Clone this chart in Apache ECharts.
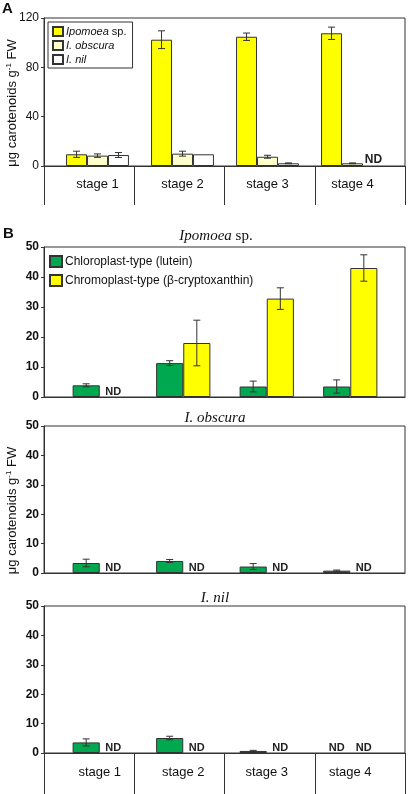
<!DOCTYPE html>
<html>
<head>
<meta charset="utf-8">
<script src="https://cdn.jsdelivr.net/npm/echarts@6/dist/echarts.min.js"></script>
<style>html,body{margin:0;padding:0;background:#fff;}#c{width:408px;height:794px;}</style>
</head>
<body>
<div id="c"></div>
<script>
// ---- data ----
const stages = ['stage 1', 'stage 2', 'stage 3', 'stage 4'];
const aTicksMax = 120, aTicksStep = 40;
const bTicksMax = 50, bTicksStep = 10;
// Panel A (total carotenoids); null = ND
const aIpomoea = [9.5, 102.4, 104.8, 107.6];
const aIpomoeaErr = [2.5, 7.2, 3.0, 5.0];
const aObscura = [8.4, 10.0, 7.5, 2.2];
const aObscuraErr = [1.4, 2.0, 1.2, 0.3];
const aNil = [8.9, 9.5, 2.2, null];
const aNilErr = [2.0, 0, 0.3, 0];
// Panel B
const ipoLutein = [3.9, 11.3, 3.5, 3.5];
const ipoLuteinErr = [0.5, 0.8, 1.8, 2.2];
const ipoCrypto = [null, 18.0, 32.8, 43.0];
const ipoCryptoErr = [0, 7.6, 3.6, 4.4];
const obsLutein = [3.4, 4.1, 2.2, 0.8];
const obsLuteinErr = [1.3, 0.5, 1.0, 0.2];
const obsCrypto = [null, null, null, null];
const nilLutein = [3.6, 5.1, 0.7, null];
const nilLuteinErr = [1.2, 0.6, 0.2, 0];
const nilCrypto = [null, null, null, null];

const names = { ipo: 'Ipomoea sp.', obs: 'I. obscura', nil: 'I. nil',
  lut: 'Chloroplast-type (lutein)', cry: 'Chromoplast-type (β-cryptoxanthin)' };

const SANS = 'Liberation Sans';
const SERIF = 'Liberation Serif';
const C_YEL = '#FFFF00', C_LYEL = '#FFFFCC', C_WHITE = '#FFFFFF', C_GREEN = '#00A94F';
const BORDER = '#333';

function barData(vals, fs) {
  return vals.map(v => v === null ? {
    value: 0,
    itemStyle: { color: 'rgba(0,0,0,0)', borderWidth: 0 },
    label: { show: true, position: 'top', distance: 0, formatter: 'ND',
      fontFamily: SANS, fontWeight: 'bold', fontSize: fs, color: '#222' }
  } : v);
}
function errData(vals, errs) {
  const out = [];
  vals.forEach((v, i) => { if (v !== null && errs[i] > 0) out.push([i, v, errs[i]]); });
  return out;
}
function errSeries(axis, vals, errs, slot, n, gap) {
  return {
    type: 'custom', xAxisIndex: axis, yAxisIndex: axis, z: 10, silent: true,
    encode: { x: 0, y: 1 },
    data: errData(vals, errs),
    renderItem: function (params, api) {
      const c = api.value(0), v = api.value(1), e = api.value(2);
      const catW = api.size([1, 0])[0];
      const used = catW * (1 - gap);
      const bw = used / n;
      const cx = api.coord([c, v])[0] - used / 2 + bw * (slot + 0.5);
      const yt = api.coord([c, v + e])[1];
      const yb = api.coord([c, Math.max(v - e, 0)])[1];
      const cap = 3.5;
      const st = { stroke: '#333', lineWidth: 1 };
      return { type: 'group', children: [
        { type: 'line', shape: { x1: cx, y1: yt, x2: cx, y2: yb }, style: st },
        { type: 'line', shape: { x1: cx - cap, y1: yt, x2: cx + cap, y2: yt }, style: st },
        { type: 'line', shape: { x1: cx - cap, y1: yb, x2: cx + cap, y2: yb }, style: st }
      ]};
    }
  };
}
function barSeries(name, axis, vals, color, fs, gap) {
  const s = { name: name, type: 'bar', xAxisIndex: axis, yAxisIndex: axis,
    data: barData(vals, fs), barGap: '0%',
    itemStyle: { color: color, borderColor: BORDER, borderWidth: 1 } };
  if (gap !== undefined) s.barCategoryGap = (gap * 100) + '%';
  return s;
}

const gapA = 0.26, gapB = 0.35;
// outer frames (box, y axis, separators) and inner bands (bar placement)
const frames = [ { top: 18, height: 148 }, { top: 247, height: 150 }, { top: 426, height: 147 }, { top: 606, height: 147 } ];
const grids = [];
frames.forEach((f, k) => {
  grids.push({ left: 44, right: 3, top: f.top, height: f.height, show: true, borderColor: BORDER, borderWidth: 1,
    containLabel: false, outerBoundsMode: 'none' });
  const inner = k === 0 ? { left: 55, right: 13 } : { left: 58, right: 16 };
  grids.push({ left: inner.left, right: inner.right, top: f.top, height: f.height, show: false,
    containLabel: false, outerBoundsMode: 'none' });
});

function outerX(g, tickLen) {
  return { type: 'category', gridIndex: g, data: stages, boundaryGap: true,
    axisLine: { show: true, lineStyle: { color: BORDER, width: 1 } },
    axisTick: { show: tickLen > 0, length: tickLen, lineStyle: { color: BORDER } },
    axisLabel: { show: false }, splitLine: { show: false } };
}
function innerX(g, showLabels, margin) {
  return { type: 'category', gridIndex: g, data: stages, boundaryGap: true,
    axisLine: { show: false }, axisTick: { show: false },
    axisLabel: { show: showLabels, margin: margin, fontFamily: SANS, fontSize: 13, color: '#111' },
    splitLine: { show: false } };
}
const yName = {
  name: '{n|μg carotenoids g}{s|-1}{n| FW}', nameLocation: 'middle', nameGap: 24, nameMoveOverlap: false,
  nameTextStyle: { padding: [0, 22, 0, 0], rich: { n: { fontFamily: SANS, fontSize: 13, color: '#111' },
    s: { fontFamily: SANS, fontSize: 8, color: '#111', padding: [0, 0, 7, 0] } } }
};
function outerY(g, max, step, bold, withName) {
  const a = { type: 'value', gridIndex: g, min: 0, max: max, interval: step,
    axisLine: { show: true, lineStyle: { color: BORDER } },
    axisTick: { show: true, length: 3, lineStyle: { color: BORDER } },
    axisLabel: { fontFamily: SANS, fontSize: 12, fontWeight: bold ? 'bold' : 'normal', color: '#111', margin: 5 },
    splitLine: { show: false } };
  if (withName) Object.assign(a, yName);
  return a;
}
function innerY(g, max, step) {
  return { type: 'value', gridIndex: g, min: 0, max: max, interval: step, show: false, splitLine: { show: false } };
}

const option = {
  animation: false,
  backgroundColor: '#fff',
  title: [
    { text: 'A', left: 2, top: 1, padding: 0, textStyle: { fontFamily: SANS, fontWeight: 'bold', fontSize: 15, color: '#111' } },
    { text: 'B', left: 3, top: 226, padding: 0, textStyle: { fontFamily: SANS, fontWeight: 'bold', fontSize: 15, color: '#111' } },
    { text: '{i|Ipomoea} sp.', left: 211, top: 224, textAlign: 'center',
      textStyle: { fontFamily: SERIF, fontSize: 15, fontWeight: 'normal', color: '#111',
        rich: { i: { fontFamily: SERIF, fontStyle: 'italic', fontSize: 15, color: '#111' } } } },
    { text: 'I. obscura', left: 210, top: 406, textAlign: 'center',
      textStyle: { fontFamily: SERIF, fontStyle: 'italic', fontSize: 15, fontWeight: 'normal', color: '#111' } },
    { text: 'I. nil', left: 210, top: 586, textAlign: 'center',
      textStyle: { fontFamily: SERIF, fontStyle: 'italic', fontSize: 15, fontWeight: 'normal', color: '#111' } }
  ],
  legend: [
    { data: [names.ipo, names.obs, names.nil], orient: 'vertical', left: 48, top: 22,
      itemWidth: 10, itemHeight: 9, itemGap: 3, padding: [4, 6, 3, 4],
      borderColor: BORDER, borderWidth: 1, icon: 'rect',
      formatter: n => n === names.ipo ? '{i|Ipomoea} sp.' : '{i|' + n + '}',
      textStyle: { fontFamily: SANS, fontSize: 11, color: '#111', padding: [0, 0, 0, -2],
        rich: { i: { fontFamily: SANS, fontStyle: 'italic', fontSize: 11, color: '#111' } } } },
    { data: [names.lut, names.cry], orient: 'vertical', left: 47, top: 253,
      itemWidth: 12, itemHeight: 11, itemGap: 6, padding: 2, icon: 'rect',
      textStyle: { fontFamily: SANS, fontSize: 12, color: '#111', padding: [0, 0, 0, -2] } }
  ],
  grid: grids,
  xAxis: [
    outerX(0, 39), innerX(1, true, 12),
    outerX(2, 0), innerX(3, false, 0),
    outerX(4, 0), innerX(5, false, 0),
    outerX(6, 41), innerX(7, true, 13)
  ],
  yAxis: [
    outerY(0, aTicksMax, aTicksStep, false, true), innerY(1, aTicksMax, aTicksStep),
    outerY(2, bTicksMax, bTicksStep, true, false), innerY(3, bTicksMax, bTicksStep),
    outerY(4, bTicksMax, bTicksStep, true, true), innerY(5, bTicksMax, bTicksStep),
    outerY(6, bTicksMax, bTicksStep, true, false), innerY(7, bTicksMax, bTicksStep)
  ],
  series: [
    barSeries(names.ipo, 1, aIpomoea, C_YEL, 12),
    barSeries(names.obs, 1, aObscura, C_LYEL, 12),
    barSeries(names.nil, 1, aNil, C_WHITE, 12, gapA),
    errSeries(1, aIpomoea, aIpomoeaErr, 0, 3, gapA),
    errSeries(1, aObscura, aObscuraErr, 1, 3, gapA),
    errSeries(1, aNil, aNilErr, 2, 3, gapA),

    barSeries(names.lut, 3, ipoLutein, C_GREEN, 11),
    barSeries(names.cry, 3, ipoCrypto, C_YEL, 11, gapB),
    errSeries(3, ipoLutein, ipoLuteinErr, 0, 2, gapB),
    errSeries(3, ipoCrypto, ipoCryptoErr, 1, 2, gapB),

    barSeries(names.lut, 5, obsLutein, C_GREEN, 11),
    barSeries(names.cry, 5, obsCrypto, C_YEL, 11, gapB),
    errSeries(5, obsLutein, obsLuteinErr, 0, 2, gapB),

    barSeries(names.lut, 7, nilLutein, C_GREEN, 11),
    barSeries(names.cry, 7, nilCrypto, C_YEL, 11, gapB),
    errSeries(7, nilLutein, nilLuteinErr, 0, 2, gapB)
  ]
};
const chart = echarts.init(document.getElementById('c'), null, { renderer: 'canvas' });
chart.setOption(option);
</script>
</body>
</html>
